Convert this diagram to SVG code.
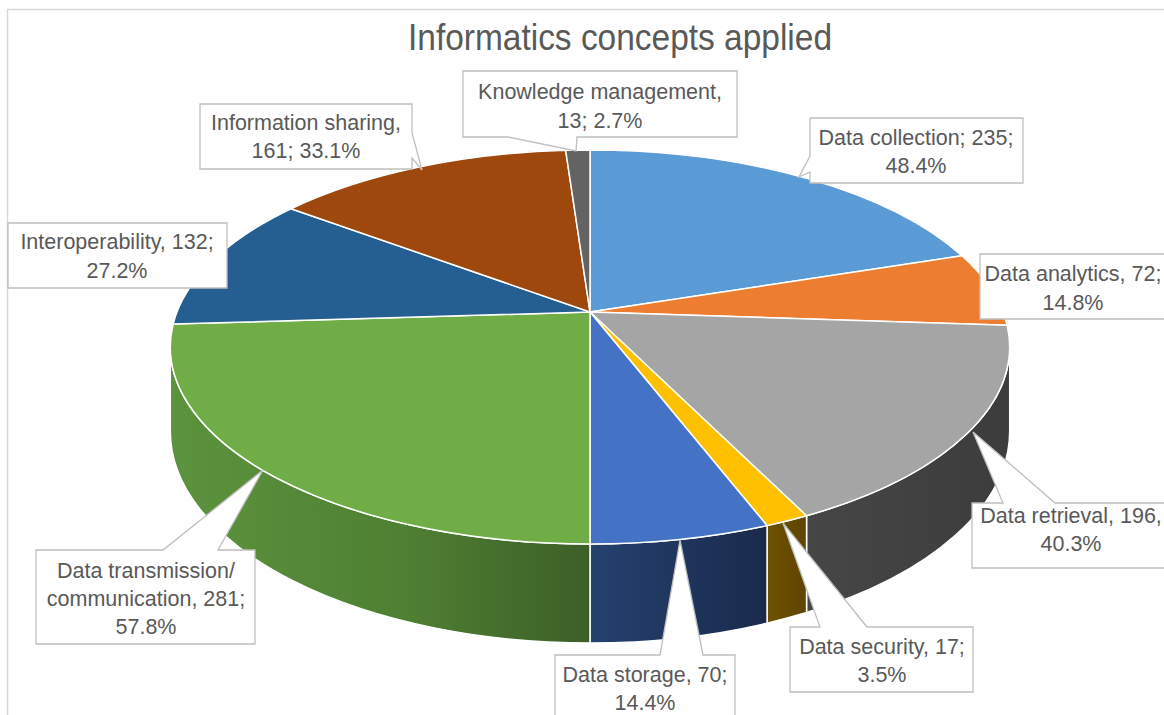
<svg xmlns="http://www.w3.org/2000/svg" width="1164" height="715" viewBox="0 0 1164 715">
  <defs>
    <linearGradient id="gSideGreen" x1="0" y1="0" x2="1" y2="0">
      <stop offset="0" stop-color="#5C933D"/>
      <stop offset="0.55" stop-color="#4F8033"/>
      <stop offset="1" stop-color="#3C5F27"/>
    </linearGradient>
    <linearGradient id="gSideNavy" x1="0" y1="0" x2="1" y2="0">
      <stop offset="0" stop-color="#25416F"/>
      <stop offset="1" stop-color="#1A2A4C"/>
    </linearGradient>
    <linearGradient id="gSideGold" x1="0" y1="0" x2="1" y2="0">
      <stop offset="0" stop-color="#6E5200"/>
      <stop offset="1" stop-color="#5E4500"/>
    </linearGradient>
    <linearGradient id="gSideGrey" x1="0" y1="0" x2="1" y2="0">
      <stop offset="0" stop-color="#464646"/>
      <stop offset="1" stop-color="#3C3C3C"/>
    </linearGradient>
    <style>
      .slice { stroke: #FFFFFF; stroke-width: 1.5; stroke-linejoin: round; }
      .callout { fill: #FFFFFF; stroke: #BFBFBF; stroke-width: 1.3; }
      .lbl { font-family: "Liberation Sans", Arial, sans-serif; font-size: 21.5px; fill: #595959; text-anchor: middle; }
      .title { font-family: "Liberation Sans", Arial, sans-serif; font-size: 36px; fill: #595959; text-anchor: middle; }
    </style>
  </defs>

  <!-- chart area -->
  <rect x="0" y="0" width="1164" height="715" fill="#FFFFFF"/>
  <rect x="7.5" y="9.5" width="1200" height="800" fill="none" stroke="#D9D9D9" stroke-width="1.5"/>

  <text class="title" x="620" y="50" textLength="424" lengthAdjust="spacingAndGlyphs">Informatics concepts applied</text>

  <!-- pie walls (front rim) -->
  <g id="pie-sides">
    <path class="slice" fill="url(#gSideGrey)" d="M1009.7,347 A419.7,197 0 0 1 806.55,515.74 L806.55,612.58 A419.7,211.95 0 0 0 1009.7,431.05 Z"/>
    <path class="slice" fill="url(#gSideGold)" d="M806.55,515.74 A419.7,197 0 0 1 767.06,525.61 L767.06,623.2 A419.7,211.95 0 0 0 806.55,612.58 Z"/>
    <path class="slice" fill="url(#gSideNavy)" d="M767.06,525.61 A419.7,197 0 0 1 590,544 L590,643 A419.7,211.95 0 0 0 767.06,623.2 Z"/>
    <path class="slice" fill="url(#gSideGreen)" d="M590,544 A419.7,197 0 0 1 170.3,347 L170.3,431.05 A419.7,211.95 0 0 0 590,643 Z"/>
  </g>

  <!-- pie top faces -->
  <g id="slice-data-collection"><path class="slice" fill="#5B9BD5" d="M590,312 L590,150 A419.7,197 0 0 1 961.96,255.76 Z"/></g>
  <g id="slice-data-analytics"><path class="slice" fill="#ED7D31" d="M590,312 L961.96,255.76 A419.7,197 0 0 1 1007.08,325.13 Z"/></g>
  <g id="slice-data-retrieval"><path class="slice" fill="#A5A5A5" d="M590,312 L1007.08,325.13 A419.7,197 0 0 1 806.55,515.74 Z"/></g>
  <g id="slice-data-security"><path class="slice" fill="#FFC000" d="M590,312 L806.55,515.74 A419.7,197 0 0 1 767.06,525.61 Z"/></g>
  <g id="slice-data-storage"><path class="slice" fill="#4472C4" d="M590,312 L767.06,525.61 A419.7,197 0 0 1 590,544 Z"/></g>
  <g id="slice-data-transmission"><path class="slice" fill="#70AD47" d="M590,312 L590,544 A419.7,197 0 0 1 173.17,324.1 Z"/></g>
  <g id="slice-interoperability"><path class="slice" fill="#255E91" d="M590,312 L173.17,324.1 A419.7,197 0 0 1 291,208.76 Z"/></g>
  <g id="slice-information-sharing"><path class="slice" fill="#9E480E" d="M590,312 L291,208.76 A419.7,197 0 0 1 565.67,150.33 Z"/></g>
  <g id="slice-knowledge-management"><path class="slice" fill="#636363" d="M590,312 L565.67,150.33 A419.7,197 0 0 1 590,150 Z"/></g>

  <!-- data label callouts -->
  <g id="label-knowledge-management">
    <path class="callout" d="M463,71 H737 V137 H577 L576,151 L508,137 H463 Z"/>
    <text class="lbl" x="600" y="99">Knowledge management,</text>
    <text class="lbl" x="600" y="128">13; 2.7%</text>
  </g>
  <g id="label-information-sharing">
    <path class="callout" d="M200,104 H412 V133 L422,170 L412,158 V169 H200 Z"/>
    <text class="lbl" x="306" y="130">Information sharing,</text>
    <text class="lbl" x="306" y="158">161; 33.1%</text>
  </g>
  <g id="label-data-collection">
    <path class="callout" d="M810,118 H1023 V183 H810 V172 L799,177 L810,156 Z"/>
    <text class="lbl" x="916" y="145">Data collection; 235;</text>
    <text class="lbl" x="916" y="173">48.4%</text>
  </g>
  <g id="label-data-analytics">
    <path class="callout" d="M980,254 H1170 V319 H980 Z"/>
    <text class="lbl" x="1073" y="281">Data analytics, 72;</text>
    <text class="lbl" x="1073" y="310">14.8%</text>
  </g>
  <g id="label-data-retrieval">
    <path class="callout" d="M972,503 H1003 L973,432 L1055,503 H1170 V568 H972 Z"/>
    <text class="lbl" x="1071" y="523">Data retrieval, 196,</text>
    <text class="lbl" x="1071" y="551">40.3%</text>
  </g>
  <g id="label-data-security">
    <path class="callout" d="M790,627 H820 L783,523 L867,627 H973 V692 H790 Z"/>
    <text class="lbl" x="882" y="654">Data security, 17;</text>
    <text class="lbl" x="882" y="682">3.5%</text>
  </g>
  <g id="label-data-storage">
    <path class="callout" d="M555,655 H660 L680,540 L703,655 H735 V722 H555 Z"/>
    <text class="lbl" x="645" y="682">Data storage, 70;</text>
    <text class="lbl" x="645" y="710">14.4%</text>
  </g>
  <g id="label-data-transmission">
    <path class="callout" d="M36,550 H163 L263,470 L218,550 H255 V644 H36 Z"/>
    <text class="lbl" x="146" y="578">Data transmission/</text>
    <text class="lbl" x="146" y="606">communication, 281;</text>
    <text class="lbl" x="146" y="634">57.8%</text>
  </g>
  <g id="label-interoperability">
    <path class="callout" d="M8,223 H227 V288 H8 Z"/>
    <text class="lbl" x="117" y="249">Interoperability, 132;</text>
    <text class="lbl" x="117" y="278">27.2%</text>
  </g>
</svg>
